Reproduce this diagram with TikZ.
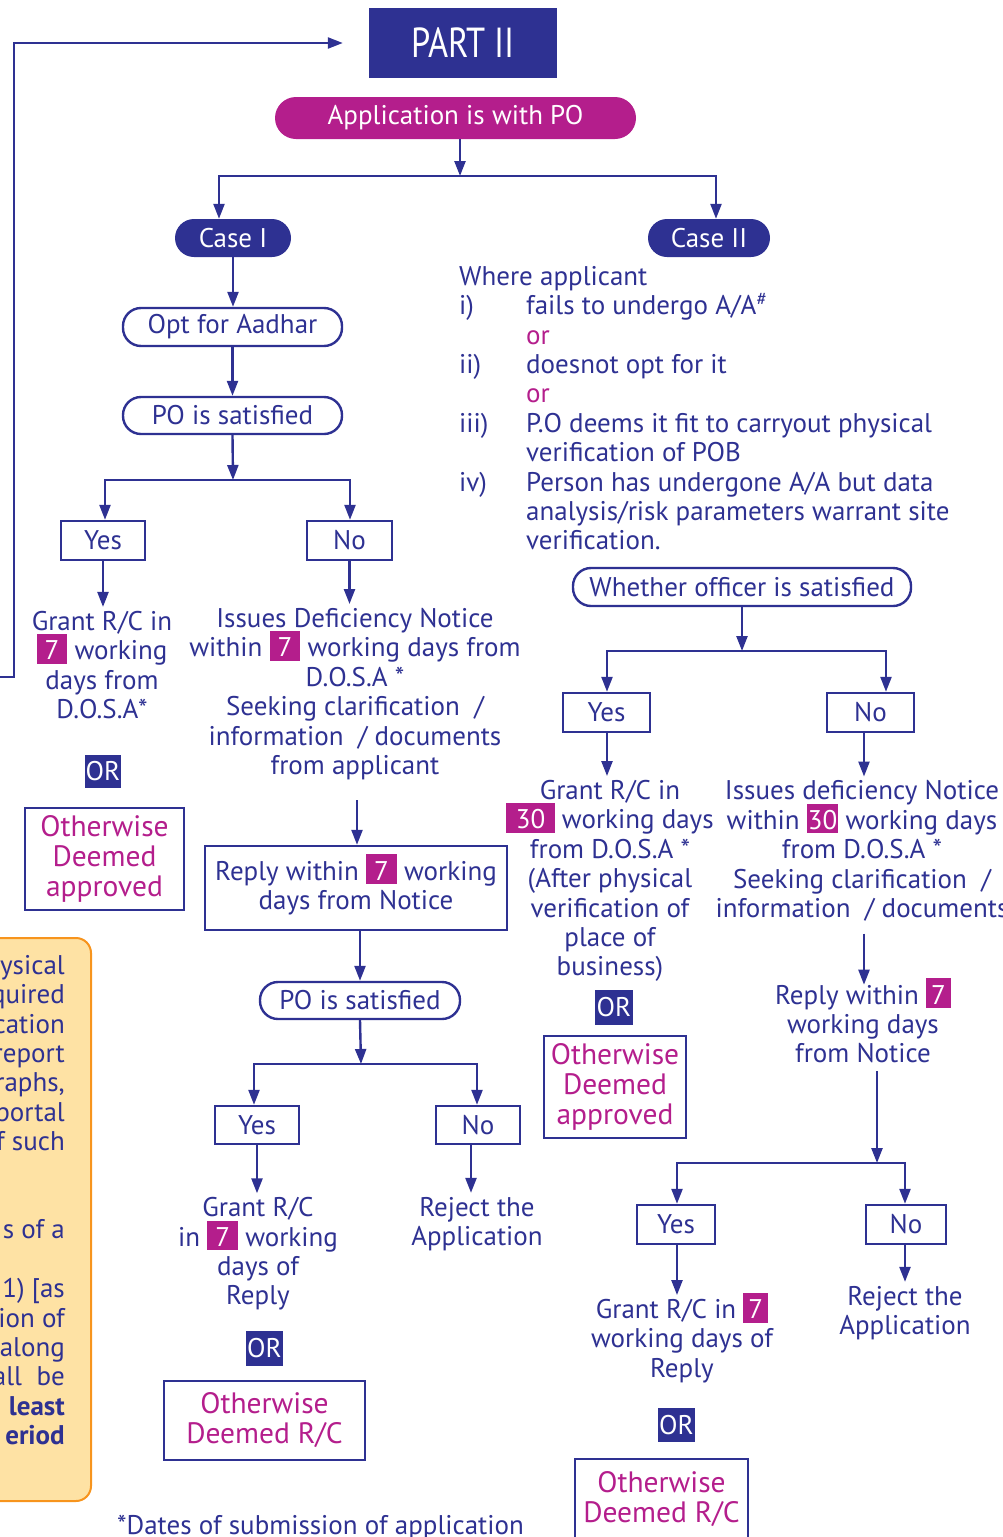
\documentclass[tikz,border=0pt]{standalone}
\usepackage{fontspec}
\setmainfont{PT Sans}
\usetikzlibrary{arrows.meta,calc}
\definecolor{navy}{HTML}{2E3192}
\definecolor{mag}{HTML}{B41E8C}
\definecolor{orfill}{HTML}{FEE2A4}
\definecolor{orline}{HTML}{F7941D}
\newcommand\fs{\fontsize{27pt}{29.4pt}\selectfont\lineskiplimit=-100pt\relax}
\newcommand\fsb{\fontsize{29.5pt}{30pt}\selectfont\lineskiplimit=-100pt\relax}
\newcommand\hl[2][8pt]{\smash{{\setlength{\fboxsep}{0pt}\colorbox{mag}{\rule[-0.15em]{0pt}{1.1em}\hspace{#1}\textcolor{white}{#2}\hspace{#1}}}}}
\tikzset{
  fillbox/.style={fill=navy, text=white, inner sep=0pt, font=\fs},
  pill/.style={draw=navy, line width=2.4pt, rounded corners=18pt, inner sep=0pt, text=navy, font=\fs},
  ybox/.style={draw=navy, line width=2.4pt, inner sep=0pt, text=navy, font=\fs},
  txt/.style={align=center, inner sep=0pt, text=navy, font=\fs},
  othbox/.style={draw=navy, line width=2.4pt, text=mag, align=center, inner sep=0pt, font=\fsb},
  arr/.style={draw=navy, line width=2.4pt, -{Triangle[length=15pt,width=11pt]}},
}
\begin{document}
\begin{tikzpicture}[x=1pt,y=-1pt]
\useasboundingbox (0,0) rectangle (1003,1537);

% orange side box
\draw[fill=orfill, draw=orline, line width=2pt, rounded corners=15pt] (-30,938) rectangle (91,1501);
\node[anchor=north east, align=right, inner sep=0pt, text=navy, font=\fs] (ortxt) at (65,955)
 {ysical\\quired\\cation\\report\\raphs,\\portal\\f such\\[29.4pt]\\s of a\\[0pt]\\1) [as\\ion of\\along\\all~~be\\\textbf{least}\\\textbf{eriod}};

% top
\node[fillbox, minimum width=188pt, minimum height=70pt] (part) at (463,43)
  {\fontsize{42pt}{44pt}\selectfont\scalebox{0.82}[1]{PART II}};
\node[fillbox, fill=mag, rounded corners=21pt, minimum width=361pt, minimum height=42pt] (app) at (455.5,118) {Application is with PO};
\coordinate (fb0) at (0,677);
\coordinate (fb1) at (14,43);
\draw[arr] (fb0) -| (fb1) -- ([xshift=-26pt]part.west);

\coordinate (s1) at (460,176);
\node[fillbox, rounded corners=19pt, minimum width=116pt, minimum height=38pt] (case1) at (233,238) {Case I};
\node[fillbox, rounded corners=19pt, minimum width=122pt, minimum height=38pt] (case2) at (709,238) {Case II};
\draw[arr] (app.south -| s1) -- (s1);
\draw[arr] (s1) -| ([xshift=-14pt]case1.north);
\draw[arr] (s1) -| ([xshift=7pt]case2.north);

% Case I branch
\node[pill, minimum width=219pt, minimum height=38pt] (opt) at (232.5,327) {Opt for Aadhar};
\node[pill, minimum width=219pt, minimum height=37pt] (po1) at (232.5,415.5) {PO is satisfied};
\draw[arr] (case1.south) -- (case1.south |- opt.north);
\draw[arr] (opt.south) -- (opt.south |- po1.north);
\coordinate (s2) at (233,480);
\draw[arr] (po1.south) -- (s2);
\node[ybox, minimum width=84pt, minimum height=39pt] (yes1) at (103,540.5) {Yes};
\node[ybox, minimum width=85pt, minimum height=39pt] (no1) at (349.5,540.5) {No};
\draw[arr] (s2) -| ([xshift=2pt]yes1.north);
\draw[arr] (s2) -| ([xshift=0.5pt]no1.north);

\node[txt] (g1) at (102,665) {Grant R/C in\\\hl{7} working\\days from\\D.O.S.A*};
\node[txt] (d1) at (355,694) {Issues Deficiency Notice\\within \hl{7} working days from\\D.O.S.A *\\Seeking clarification~~/\\information~~/ documents\\from applicant};
\draw[arr, shorten >=4pt] (yes1.south) -- (yes1.south |- g1.north);
\draw[arr, shorten >=4pt] (no1.south) -- (no1.south |- d1.north);

\node[fillbox, minimum width=36pt, minimum height=33pt] (or1) at (103,771.5) {OR};
\node[othbox, minimum width=159pt, minimum height=102pt] (oth1) at (104.5,859) {Otherwise\\Deemed\\approved};

\node[ybox, align=center, minimum width=302pt, minimum height=84pt] (reply1) at (356,888) {Reply within \hl{7} working\\days from Notice};
\draw[arr, shorten <=20pt] ([xshift=2pt]d1.south) -- ([xshift=2pt]d1.south |- reply1.north);

\node[pill, minimum width=200pt, minimum height=37pt] (po2) at (360,1000.5) {PO is satisfied};
\draw[arr] (reply1.south -| po2.north) -- (po2.north);
\coordinate (s3) at (361,1064);
\draw[arr] (po2.south) -- (s3);
\node[ybox, minimum width=84pt, minimum height=38pt] (yes2) at (257,1125) {Yes};
\node[ybox, minimum width=84pt, minimum height=38pt] (no2) at (478,1125) {No};
\draw[arr] (s3) -| ([xshift=-3pt]yes2.north);
\draw[arr] (s3) -| ([xshift=-1pt]no2.north);
\node[txt] (g2) at (258,1254) {Grant R/C\\in \hl{7} working\\days of\\Reply};
\node[txt] (rej1) at (477,1224) {Reject the\\Application};
\draw[arr, shorten >=4pt] (yes2.south) -- (yes2.south |- g2.north);
\draw[arr, shorten >=4pt] ([xshift=-7pt]no2.south) -- ([xshift=-7pt]no2.south |- rej1.north);
\node[fillbox, minimum width=37pt, minimum height=35pt] (or2) at (264.5,1348.5) {OR};
\node[othbox, minimum width=201pt, minimum height=79pt] (oth2) at (264.5,1420.5) {Otherwise\\Deemed R/C};

\node[anchor=base west, inner sep=0pt, text=navy, font=\fs] (foot) at (117,1534) {*Dates of submission of application};

% Case II branch
\node[anchor=north west, align=left, inner sep=0pt, text=navy, font=\fs] (where) at (459,266)
 {Where applicant\\
  \makebox[67pt][l]{i)}fails to undergo A/A\textsuperscript{\#}\\
  \makebox[67pt][l]{}\textcolor{mag}{or}\\
  \makebox[67pt][l]{ii)}doesnot opt for it\\
  \makebox[67pt][l]{}\textcolor{mag}{or}\\
  \makebox[67pt][l]{iii)}P.O deems it fit to carryout physical\\
  \makebox[67pt][l]{}verification of POB\\
  \makebox[67pt][l]{iv)}Person has undergone A/A but data\\
  \makebox[67pt][l]{}analysis/risk parameters warrant site\\
  \makebox[67pt][l]{}verification.};

\node[pill, minimum width=338pt, minimum height=38pt] (woff) at (742,587) {Whether officer is satisfied};
\coordinate (s4) at (742,651);
\draw[arr] (woff.south -| s4) -- (s4);
\node[ybox, minimum width=87pt, minimum height=39pt] (yes3) at (606.5,712.5) {Yes};
\node[ybox, minimum width=87pt, minimum height=39pt] (no3) at (870.5,712.5) {No};
\draw[arr] (s4) -| ([xshift=0.5pt]yes3.north);
\draw[arr] (s4) -| ([xshift=15.5pt]no3.north);
\node[txt] (g3) at (610,881) {Grant R/C in\\\hl[9.5pt]{30} working days\\from D.O.S.A *\\(After physical\\verification of\\place of\\business)};
\node[txt] (d3) at (862,851) {Issues deficiency Notice\\within \hl[1pt]{30} working days\\from D.O.S.A *\\Seeking clarification~~/\\information~~/ documents};
\draw[arr, shorten >=4pt] ([xshift=0.5pt]yes3.south) -- ([xshift=0.5pt]yes3.south |- g3.north);
\draw[arr, shorten >=4pt] ([xshift=-6.5pt]no3.south) -- ([xshift=-6.5pt]no3.south |- d3.north);
\node[fillbox, minimum width=38pt, minimum height=35pt] (or3) at (614,1007.5) {OR};
\node[othbox, minimum width=142pt, minimum height=102pt] (oth3) at (615,1087) {Otherwise\\Deemed\\approved};

\node[txt] (reply3) at (863,1024) {Reply within \hl[5pt]{7}\\working days\\from Notice};
\draw[arr, shorten <=12pt] ([xshift=2pt]d3.south) -- ([xshift=2pt]d3.south |- reply3.north);
\coordinate (s5) at (877,1163);
\draw[arr, shorten <=8pt] (reply3.south -| s5) -- (s5);
\node[ybox, minimum width=78pt, minimum height=39pt] (yes4) at (676,1224.5) {Yes};
\node[ybox, minimum width=80pt, minimum height=39pt] (no4) at (906,1224.5) {No};
\draw[arr] (s5) -| ([xshift=1pt]yes4.north);
\draw[arr] (s5) -| ([xshift=-1pt]no4.north);
\node[txt] (g4) at (682,1341) {Grant R/C in \hl[5pt]{7}\\working days of\\Reply};
\node[txt] (rej2) at (905,1313) {Reject the\\Application};
\draw[arr, shorten >=4pt] ([xshift=1pt]yes4.south) -- ([xshift=1pt]yes4.south |- g4.north);
\draw[arr, shorten >=4pt] ([xshift=-1pt]no4.south) -- ([xshift=-1pt]no4.south |- rej2.north);
\node[fillbox, minimum width=37pt, minimum height=34pt] (or4) at (676.5,1425) {OR};
\node[othbox, minimum width=173pt, minimum height=81pt] (oth4) at (661.5,1499.5) {Otherwise\\Deemed R/C};
\end{tikzpicture}
\end{document}
